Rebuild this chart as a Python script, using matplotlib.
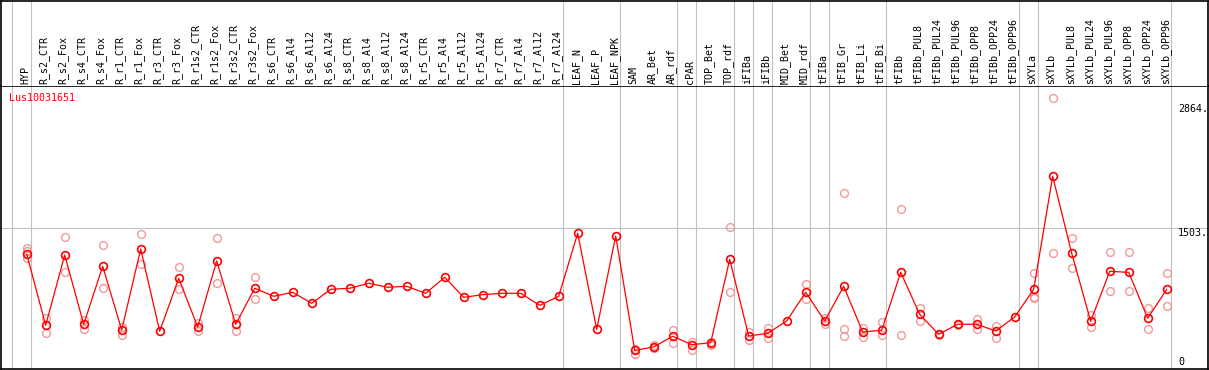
import matplotlib
matplotlib.use("Agg")
import matplotlib.pyplot as plt
import matplotlib.transforms as mtransforms

# ---------------- data ----------------
gene = "Lus10031651"

groups = [
    ["HYP"],
    ["R_s2_CTR", "R_s2_Fox", "R_s4_CTR", "R_s4_Fox", "R_r1_CTR", "R_r1_Fox",
     "R_r3_CTR", "R_r3_Fox", "R_r1s2_CTR", "R_r1s2_Fox", "R_r3s2_CTR", "R_r3s2_Fox",
     "R_s6_CTR", "R_s6_Al4", "R_s6_Al12", "R_s6_Al24", "R_s8_CTR", "R_s8_Al4",
     "R_s8_Al12", "R_s8_Al24", "R_r5_CTR", "R_r5_Al4", "R_r5_Al12", "R_r5_Al24",
     "R_r7_CTR", "R_r7_Al4", "R_r7_Al12", "R_r7_Al24"],
    ["LEAF_N", "LEAF_P", "LEAF_NPK"],
    ["SAM", "AR_Bet", "AR_rdf"],
    ["cPAR"],
    ["TOP_Bet", "TOP_rdf"],
    ["iFIBa"],
    ["iFIBb"],
    ["MID_Bet", "MID_rdf"],
    ["tFIBa"],
    ["tFIB_Gr", "tFIB_Li", "tFIB_Bi"],
    ["tFIBb", "tFIBb_PUL8", "tFIBb_PUL24", "tFIBb_PUL96", "tFIBb_OPP8",
     "tFIBb_OPP24", "tFIBb_OPP96"],
    ["sXYLa"],
    ["sXYLb", "sXYLb_PUL8", "sXYLb_PUL24", "sXYLb_PUL96", "sXYLb_OPP8",
     "sXYLb_OPP24", "sXYLb_OPP96"],
]

means = [1218, 436, 1207, 447, 1083, 384, 1273, 370, 952, 417, 1142, 447, 842,
         754, 798, 677, 831, 842, 897, 853, 864, 787, 963, 743, 772, 787, 787,
         655, 754, 1446, 392, 1416, 161, 198, 315, 223, 245, 1160, 318, 348,
         483, 798, 483, 864, 362, 381, 1017, 556, 337, 447, 447, 373, 527, 831,
         2071, 1226, 480, 1028, 1017, 513, 831]

replicates = [
    [1281, 1255, 1177], [519, 348], [1402, 1017], [494, 399], [1317, 842],
    [421, 333], [1434, 1105], [], [1072, 831], [465, 377], [1391, 897],
    [519, 370], [963, 728],
    [], [], [], [], [], [], [], [], [], [], [], [], [], [], [], [],
    [], [], [],
    [126, 180], [216, 185], [384, 238], [256, 165], [255, 216], [1511, 798],
    [366, 274], [410, 293], [], [889, 721], [513, 450], [1888, 392, 318],
    [410, 311], [469, 329], [1709, 325], [629, 480], [340, 330], [455, 440],
    [508, 392], [428, 300], [], [1007, 750, 732], [2927, 1226], [1391, 1061],
    [549, 414], [1237, 809], [1237, 809], [622, 392], [1007, 644],
]

scale_ticks = [2864, 1503]
scale_labels = ["2864.", "1503."]

# ---------------- drawing ----------------
labels = [l for g in groups for l in g]
n = len(labels)
x = list(range(n))

W, H = 1209, 370
fig = plt.figure(figsize=(W / 100, H / 100), dpi=100)

FONT = "DejaVu Sans Mono"
FS = 7.2
RED = "#ff0000"
PINK = "#f09a9a"
GRAY = "#c0c0c0"

# pixel geometry
px0, px_step = 26.7, 19.0
left_px, right_px = 1.0, 1208.0
xmin = (left_px - px0) / px_step
xmax = (right_px - px0) / px_step
head_px = 85.5
bottom_px = 368.5
y0_px, k = 365.0, 0.0911
ymin = (y0_px - bottom_px) / k
ymax = (y0_px - head_px) / k

ax = fig.add_axes([left_px / W, (H - bottom_px) / H,
                   (right_px - left_px) / W, (bottom_px - head_px) / H])
axh = fig.add_axes([left_px / W, (H - head_px) / H,
                    (right_px - left_px) / W, (head_px - 0.5) / H])

for a in (ax, axh):
    a.set_xlim(xmin, xmax)
    a.set_xticks([])
    a.set_yticks([])
    for s in a.spines.values():
        s.set_color("black")
        s.set_linewidth(1.2)
ax.set_ylim(ymin, ymax)
axh.set_ylim(head_px - 0.5, 0)
axh.spines["bottom"].set_visible(False)

# group separators
boundaries = [-1]
c = -1
for g in groups:
    c += len(g)
    boundaries.append(c)
off = 4.0 / px_step
for b in boundaries:
    for a in (ax, axh):
        a.axvline(b + off, color=GRAY, lw=0.8, zorder=1)

# horizontal reference line
ax.axhline(scale_ticks[1], color=GRAY, lw=0.8, zorder=1)

# replicates
rx, ry = [], []
for i, reps in enumerate(replicates):
    for r in reps:
        rx.append(i)
        ry.append(r)
ax.plot(rx, ry, linestyle="none", marker="o", markersize=5.6,
        markerfacecolor="none", markeredgecolor=PINK, markeredgewidth=1.0,
        zorder=2)

# means
ax.plot(x, means, color=RED, lw=0.9, zorder=3)
ax.plot(x, means, linestyle="none", marker="o", markersize=5.6,
        markerfacecolor="none", markeredgecolor=RED, markeredgewidth=1.2,
        zorder=4)

# header labels
for i, lab in enumerate(labels):
    axh.text(i - 0.08, 83.5, lab, rotation=90, ha="center", va="bottom",
             fontsize=FS, family=FONT, color="black")

# gene name
fig.text(9 / W, 1 - 97.7 / H, gene, ha="left", va="center",
         fontsize=FS, family=FONT, color=RED)

# scale labels
tr = mtransforms.blended_transform_factory(fig.transFigure, ax.transData)
for v, s in zip(scale_ticks, scale_labels):
    ax.text(1178 / W, v, s, transform=tr, ha="left", va="top",
            fontsize=FS, family=FONT, color="black")
fig.text(1178 / W, 1 - 361.7 / H, "0", ha="left", va="center",
         fontsize=FS, family=FONT, color="black")

fig.savefig("out.png", dpi=100)
